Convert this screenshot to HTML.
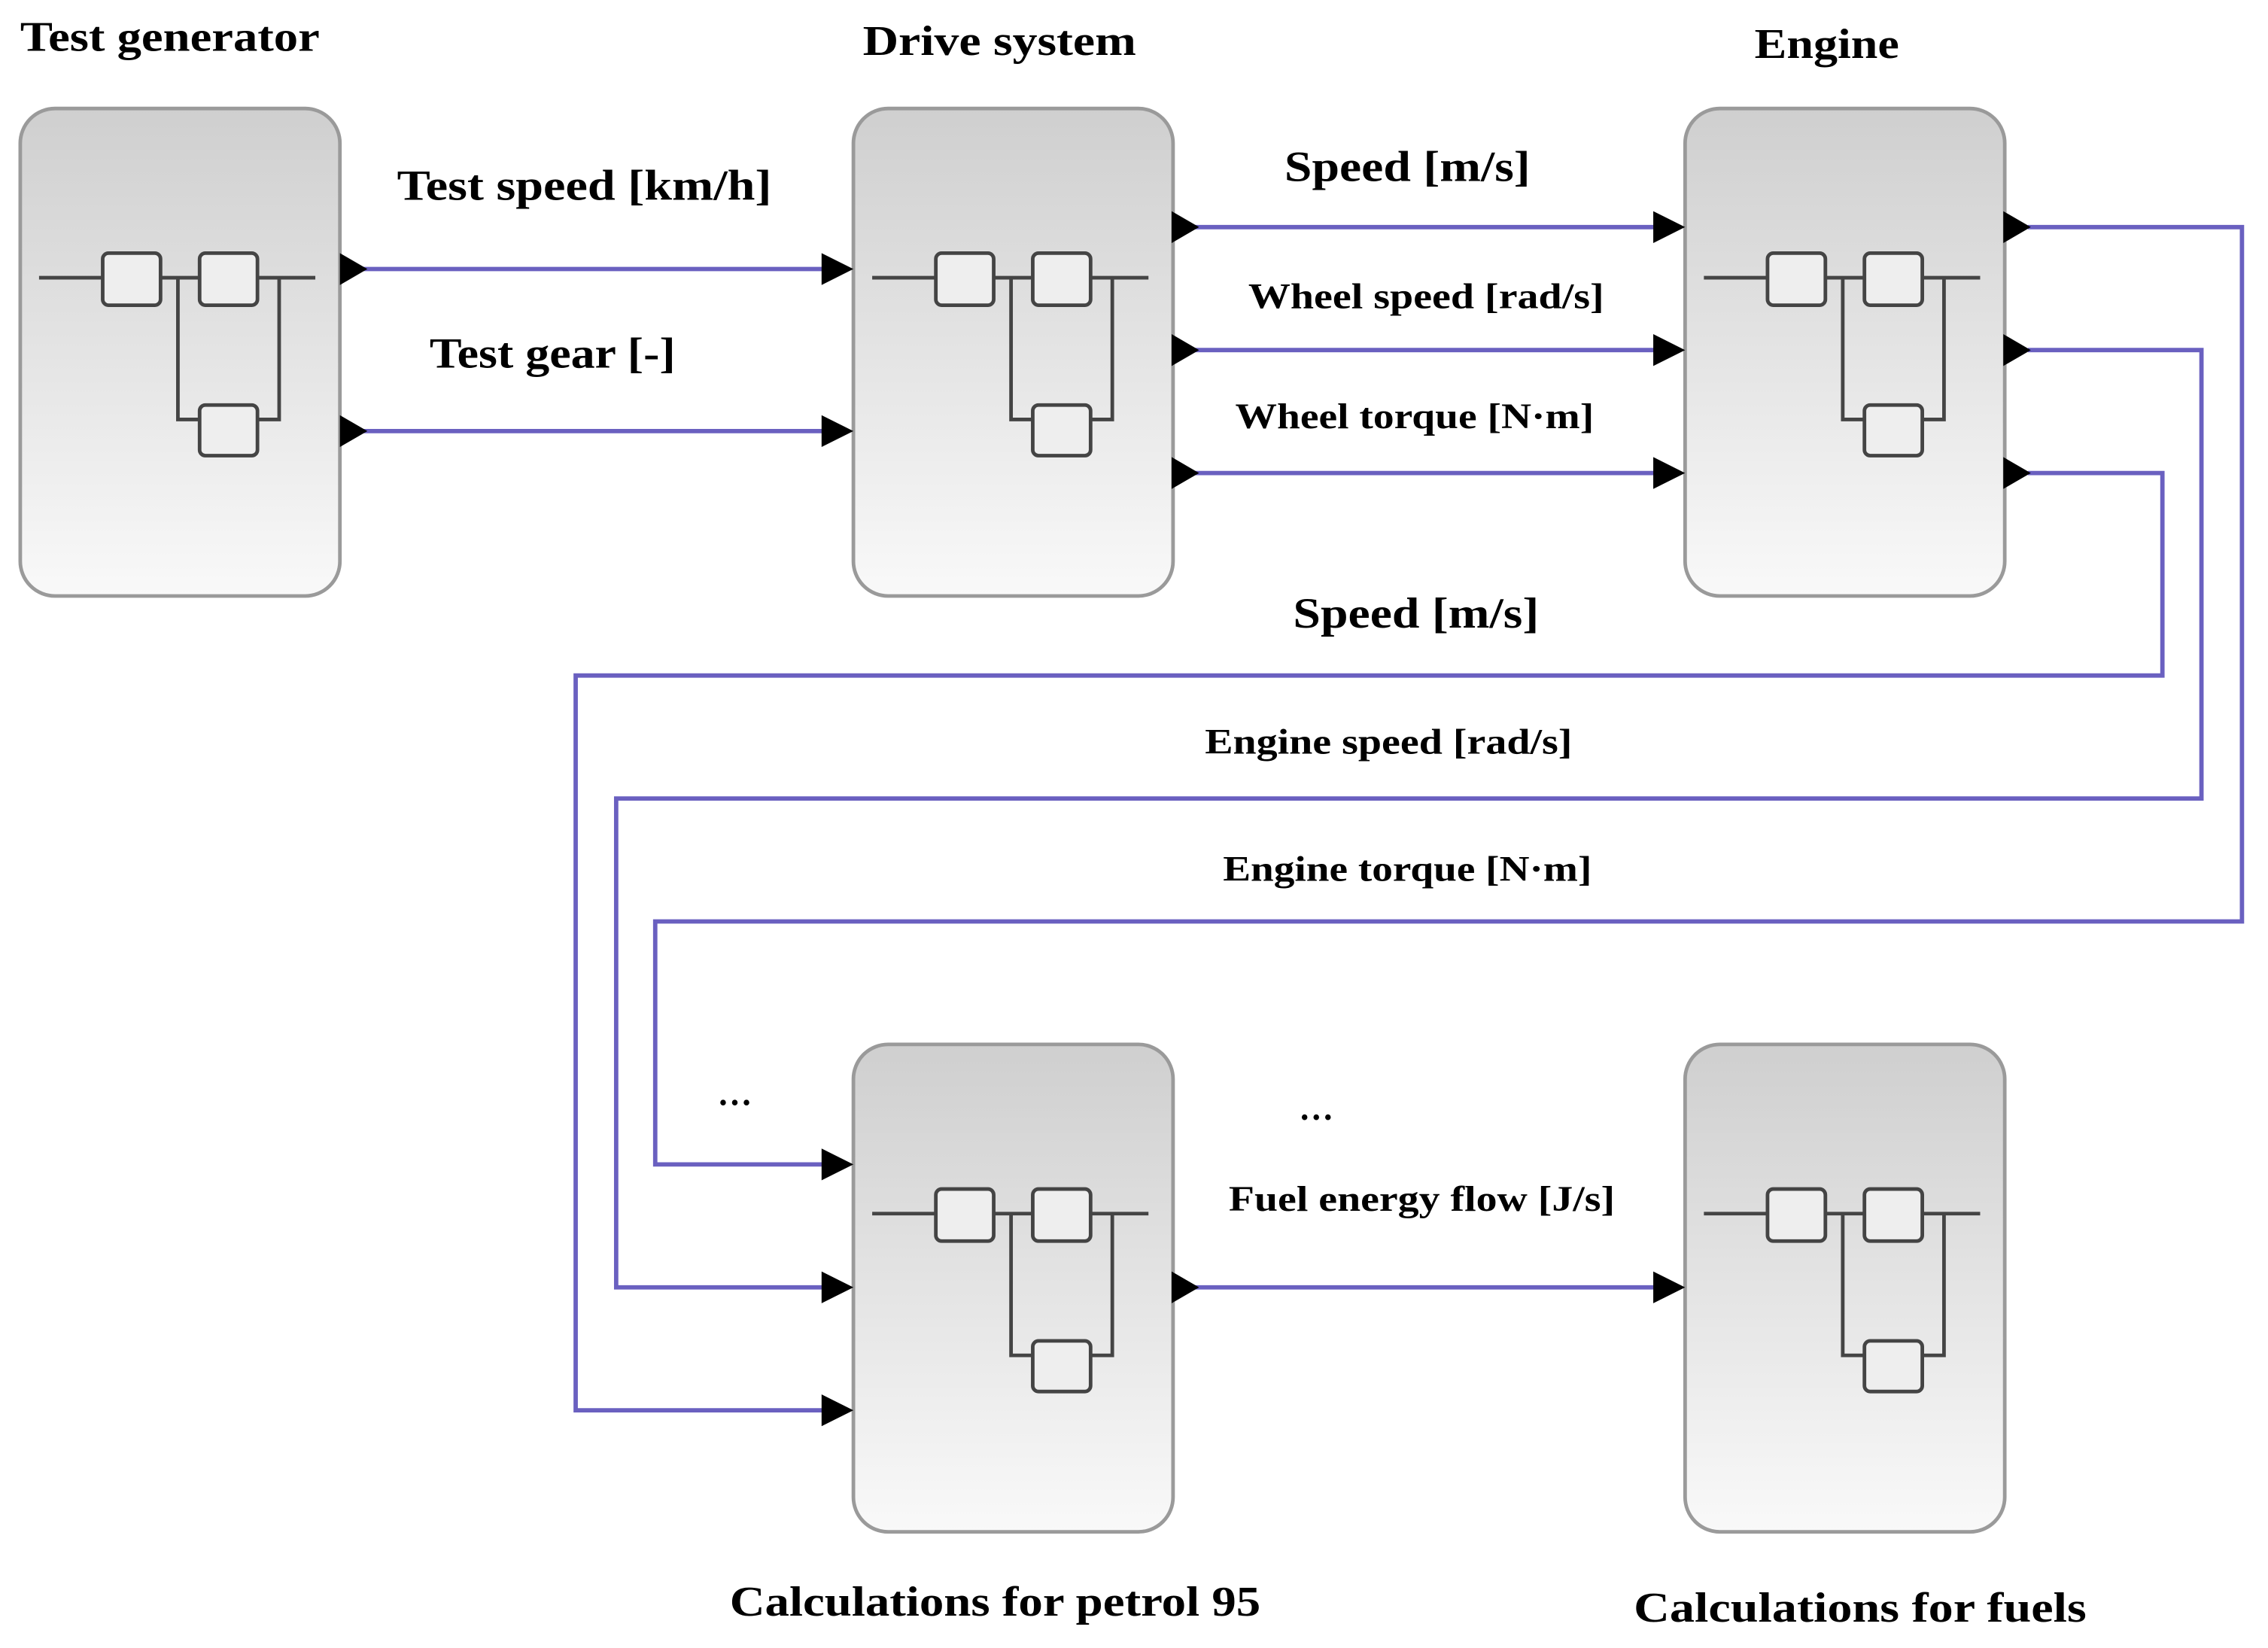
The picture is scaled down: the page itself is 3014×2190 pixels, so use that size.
<!DOCTYPE html>
<html><head><meta charset="utf-8"><style>
html,body{margin:0;padding:0;background:#fff}
svg{display:block}
text{font-family:"Liberation Serif",serif;font-weight:bold;fill:#000}
</style></head><body>
<svg width="3014" height="2190" viewBox="0 0 1568 1139.3" xmlns="http://www.w3.org/2000/svg">
<defs>
<linearGradient id="g" x1="0" y1="0" x2="0" y2="1">
<stop offset="0" stop-color="#cfcfcf"/><stop offset="0.5" stop-color="#e4e4e4"/><stop offset="1" stop-color="#f9f9f9"/>
</linearGradient>
<g id="blk">
<rect x="0" y="0" width="221" height="337" rx="24" fill="url(#g)" stroke="#9a9a9a" stroke-width="2.5"/>
<g stroke="#444" stroke-width="2.5" fill="#eee">
<line x1="13" y1="117" x2="204" y2="117"/>
<polyline points="109,117 109,215 179,215 179,117" fill="none"/>
<rect x="57" y="100" width="40" height="36" rx="4"/>
<rect x="124" y="100" width="40" height="36" rx="4"/>
<rect x="124" y="205" width="40" height="35" rx="4"/>
</g>
</g>
</defs>
<use href="#blk" x="14" y="75"/>
<use href="#blk" x="590" y="75"/>
<use href="#blk" x="1165" y="75"/>
<use href="#blk" x="590" y="722"/>
<use href="#blk" x="1165" y="722"/>
<g stroke="#6a60c0" stroke-width="3" fill="none">
<line x1="250" y1="186" x2="572" y2="186"/>
<line x1="250" y1="298" x2="572" y2="298"/>
<line x1="826" y1="157" x2="1148" y2="157"/>
<line x1="826" y1="242" x2="1148" y2="242"/>
<line x1="826" y1="327" x2="1148" y2="327"/>
<polyline points="1402,157 1550,157 1550,637 453,637 453,805 572,805"/>
<polyline points="1402,242 1522,242 1522,552 426,552 426,890 572,890"/>
<polyline points="1402,327 1495,327 1495,467 398,467 398,975 572,975"/>
<line x1="826" y1="890" x2="1148" y2="890"/>
</g>
<g fill="#000">
<path d="M235,175 l19,11 l-19,11z"/><path d="M235,287 l19,11 l-19,11z"/>
<path d="M568,175 l22,11 l-22,11z"/><path d="M568,287 l22,11 l-22,11z"/>
<path d="M810,146 l19,11 l-19,11z"/><path d="M810,231 l19,11 l-19,11z"/><path d="M810,316 l19,11 l-19,11z"/>
<path d="M1143,146 l22,11 l-22,11z"/><path d="M1143,231 l22,11 l-22,11z"/><path d="M1143,316 l22,11 l-22,11z"/>
<path d="M1385,146 l19,11 l-19,11z"/><path d="M1385,231 l19,11 l-19,11z"/><path d="M1385,316 l19,11 l-19,11z"/>
<path d="M568,794 l22,11 l-22,11z"/><path d="M568,879 l22,11 l-22,11z"/><path d="M568,964 l22,11 l-22,11z"/>
<path d="M810,879 l19,11 l-19,11z"/><path d="M1143,879 l22,11 l-22,11z"/>
</g>
<g lengthAdjust="spacingAndGlyphs">
<text x="14" y="35" font-size="29" textLength="207" lengthAdjust="spacingAndGlyphs">Test generator</text>
<text x="691" y="38" font-size="29" text-anchor="middle" textLength="189" lengthAdjust="spacingAndGlyphs">Drive system</text>
<text x="1263" y="40" font-size="29" text-anchor="middle" textLength="100" lengthAdjust="spacingAndGlyphs">Engine</text>
<text x="404" y="138" font-size="30" text-anchor="middle" textLength="259" lengthAdjust="spacingAndGlyphs">Test speed [km/h]</text>
<text x="382" y="254" font-size="30" text-anchor="middle" textLength="170" lengthAdjust="spacingAndGlyphs">Test gear [-]</text>
<text x="973" y="125" font-size="30" text-anchor="middle" textLength="170" lengthAdjust="spacingAndGlyphs">Speed [m/s]</text>
<text x="986" y="213" font-size="25" text-anchor="middle" textLength="246" lengthAdjust="spacingAndGlyphs">Wheel speed [rad/s]</text>
<text x="978" y="296" font-size="25" text-anchor="middle" textLength="248" lengthAdjust="spacingAndGlyphs">Wheel torque [N·m]</text>
<text x="979" y="434" font-size="30" text-anchor="middle" textLength="170" lengthAdjust="spacingAndGlyphs">Speed [m/s]</text>
<text x="960" y="521" font-size="25" text-anchor="middle" textLength="254" lengthAdjust="spacingAndGlyphs">Engine speed [rad/s]</text>
<text x="973" y="609" font-size="25" text-anchor="middle" textLength="255" lengthAdjust="spacingAndGlyphs">Engine torque [N·m]</text>
<text x="508" y="764" font-size="24" font-weight="normal" text-anchor="middle">…</text>
<text x="910" y="774" font-size="24" font-weight="normal" text-anchor="middle">…</text>
<text x="983" y="837" font-size="25" text-anchor="middle" textLength="267" lengthAdjust="spacingAndGlyphs">Fuel energy flow [J/s]</text>
<text x="688" y="1117" font-size="29" text-anchor="middle" textLength="367" lengthAdjust="spacingAndGlyphs">Calculations for petrol 95</text>
<text x="1286" y="1121" font-size="29" text-anchor="middle" textLength="313" lengthAdjust="spacingAndGlyphs">Calculations for fuels</text>
</g>
</svg>
</body></html>
